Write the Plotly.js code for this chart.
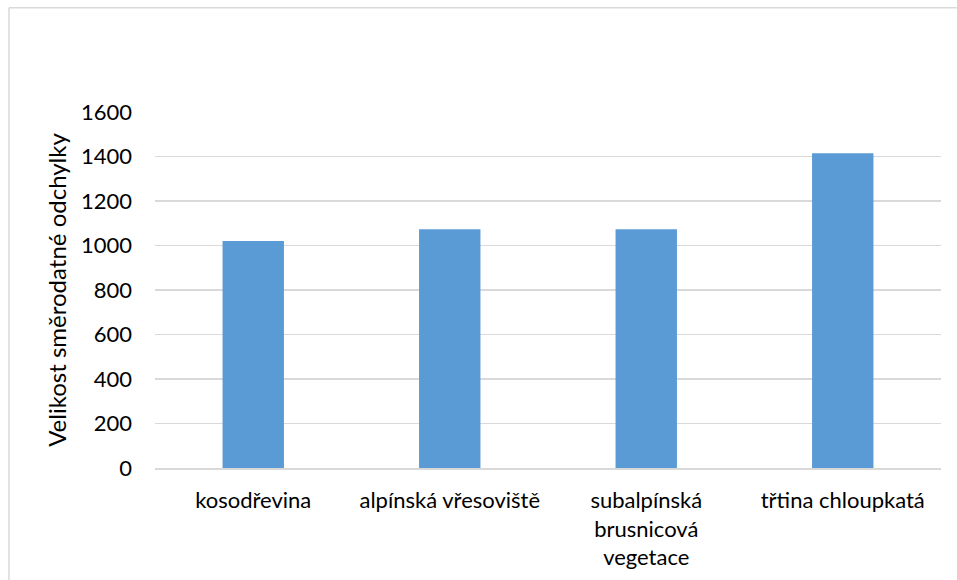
<!DOCTYPE html>
<html>
<head>
<meta charset="utf-8">
<script src="https://cdn.plot.ly/plotly-3.0.1.min.js"></script>
<style>
html,body{margin:0;padding:0;background:#fff;}
#chart{width:957px;height:580px;}
</style>
</head>
<body>
<div id="chart"></div>
<script>
const categories = ["kosodřevina", "alpínská vřesoviště", "subalpínská<br>brusnicová<br>vegetace", "třtina chloupkatá"];
const values = [1020, 1073, 1073, 1415];
const yTicks = [0, 200, 400, 600, 800, 1000, 1200, 1400, 1600];
const yTitle = "Velikost směrodatné odchylky";

const trace = {
  type: "bar",
  x: categories,
  y: values,
  marker: {color: "#5b9bd5", line: {width: 0}},
  hoverinfo: "x+y"
};

const layout = {
  width: 957,
  height: 580,
  margin: {l: 155, r: 16, t: 112, b: 112},
  paper_bgcolor: "#ffffff",
  plot_bgcolor: "#ffffff",
  font: {family: "Lato, 'Open Sans', sans-serif", color: "#000000"},
  bargap: 0.6875,
  showlegend: false,
  xaxis: {
    type: "category",
    tickfont: {size: 22, color: "#000000"},
    showgrid: false,
    zeroline: false,
    showline: true,
    linecolor: "#d9d9d9",
    linewidth: 1.5,
    ticks: "",
    ticklabelstandoff: 12
  },
  yaxis: {
    range: [0, 1600],
    tickvals: yTicks,
    ticktext: yTicks.map(String),
    tickfont: {size: 22, color: "#000000"},
    showgrid: true,
    gridcolor: "#d9d9d9",
    gridwidth: 1.5,
    zeroline: false,
    showline: false,
    ticks: "",
    ticklabelstandoff: 22,
    title: {text: yTitle, font: {size: 24, color: "#000000"}, standoff: 7}
  },
  shapes: [
    {type: "line", xref: "paper", yref: "paper",
     x0: -0.1858, x1: 1.02, y0: 1.2931, y1: 1.2931,
     line: {color: "#d9d9d9", width: 1.5}},
    {type: "line", xref: "paper", yref: "paper",
     x0: -0.1858, x1: -0.1858, y0: 1.2931, y1: -0.35,
     line: {color: "#d9d9d9", width: 1.5}}
  ]
};

Plotly.newPlot("chart", [trace], layout, {displayModeBar: false, staticPlot: true});
</script>
</body>
</html>
